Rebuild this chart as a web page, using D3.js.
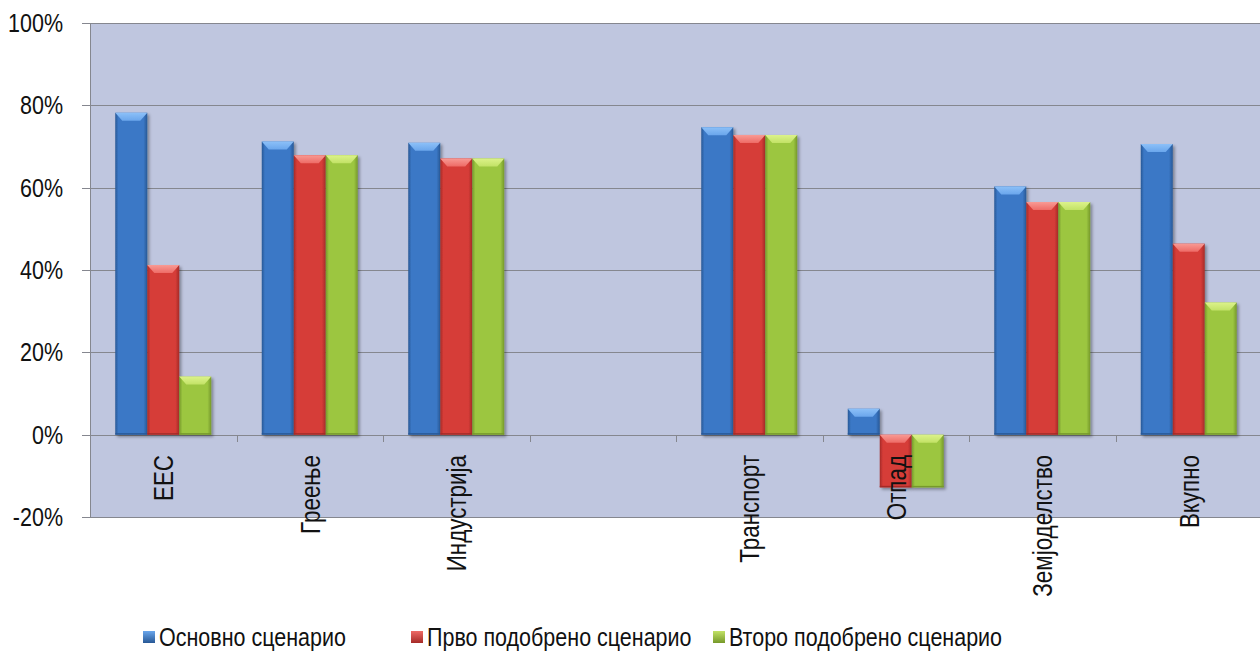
<!DOCTYPE html>
<html>
<head>
<meta charset="utf-8">
<script src="https://cdn.jsdelivr.net/npm/d3@7/dist/d3.min.js"></script>
<style>
  html, body { margin: 0; padding: 0; background: #ffffff; }
  svg { display: block; font-family: "Liberation Sans", Arial, sans-serif; }
</style>
</head>
<body>
<svg id="chart" width="1260" height="654"></svg>
<script>
// Sector categories (one empty slot between Индустрија and Транспорт)
const categories = ["ЕЕС", "Греење", "Индустрија", "", "Транспорт", "Отпад", "Земјоделство", "Вкупно"];
const seriesNames = ["Основно сценарио", "Прво подобрено сценарио", "Второ подобрено сценарио"];
// Reduction shares per sector, fractions
const baseValues   = [0.782, 0.712, 0.709, null, 0.747, 0.063, 0.603, 0.706];
const firstValues  = [0.412, 0.679, 0.671, null, 0.728, -0.128, 0.565, 0.464];
const secondValues = [0.141, 0.679, 0.671, null, 0.728, -0.128, 0.565, 0.321];
const yTicks = [-0.2, 0, 0.2, 0.4, 0.6, 0.8, 1.0];

const palette = [
  { base: "#3b78c6", dark: "#285896", light: "#6aa6ec", hi: "#8cc0f8" },
  { base: "#d63c38", dark: "#a52a27", light: "#ee6b66", hi: "#f89a94" },
  { base: "#9cc641", dark: "#76992a", light: "#c2e266", hi: "#dcf28a" }
];

const svg = d3.select("#chart");
const plot = { left: 90, right: 1262, top: 23, bottom: 517 };

const x0 = d3.scaleBand().domain(d3.range(categories.length))
  .range([plot.left, plot.right]).paddingInner(0).paddingOuter(0);
const x1 = d3.scaleBand().domain(d3.range(seriesNames.length))
  .range([0, x0.bandwidth()]).paddingInner(0).paddingOuter(0.79);
const y = d3.scaleLinear().domain([-0.2, 1.0]).range([plot.bottom, plot.top]);

const defs = svg.append("defs");
palette.forEach((c, i) => {
  const g = defs.append("linearGradient").attr("id", "side" + i)
    .attr("x1", "0").attr("x2", "1").attr("y1", "0").attr("y2", "0");
  g.append("stop").attr("offset", "0").attr("stop-color", c.dark);
  g.append("stop").attr("offset", "0.1").attr("stop-color", c.base);
  g.append("stop").attr("offset", "0.5").attr("stop-color", c.base);
  g.append("stop").attr("offset", "0.88").attr("stop-color", c.base);
  g.append("stop").attr("offset", "1").attr("stop-color", c.dark);
  const t = defs.append("linearGradient").attr("id", "cap" + i)
    .attr("x1", "0").attr("x2", "0").attr("y1", "0").attr("y2", "1");
  t.append("stop").attr("offset", "0").attr("stop-color", c.hi);
  t.append("stop").attr("offset", "1").attr("stop-color", c.light);
  const m = defs.append("linearGradient").attr("id", "mark" + i)
    .attr("x1", "0").attr("x2", "0").attr("y1", "0").attr("y2", "1");
  m.append("stop").attr("offset", "0").attr("stop-color", c.light);
  m.append("stop").attr("offset", "1").attr("stop-color", c.dark);
});
const shadow = defs.append("filter").attr("id", "shadow")
  .attr("x", "-20%").attr("y", "-10%").attr("width", "150%").attr("height", "130%");
shadow.append("feDropShadow").attr("dx", 2).attr("dy", 2)
  .attr("stdDeviation", 1.6).attr("flood-color", "#000").attr("flood-opacity", 0.35);

// Plot area background
svg.append("rect")
  .attr("x", plot.left).attr("y", plot.top)
  .attr("width", plot.right - plot.left).attr("height", plot.bottom - plot.top)
  .attr("fill", "#bfc6df");

// Horizontal gridlines with left tick marks
svg.append("g").selectAll("line").data(yTicks).join("line")
  .attr("x1", plot.left - 8).attr("x2", plot.right)
  .attr("y1", d => Math.round(y(d)) + 0.5).attr("y2", d => Math.round(y(d)) + 0.5)
  .attr("stroke", "#85878f").attr("stroke-width", 1);

// Left axis line
svg.append("line")
  .attr("x1", plot.left + 0.5).attr("x2", plot.left + 0.5)
  .attr("y1", plot.top).attr("y2", plot.bottom)
  .attr("stroke", "#85878f");

// Category tick marks on the zero line
svg.append("g").selectAll("line").data(d3.range(1, categories.length + 1)).join("line")
  .attr("x1", d => Math.round(plot.left + d * x0.step()) + 0.5)
  .attr("x2", d => Math.round(plot.left + d * x0.step()) + 0.5)
  .attr("y1", Math.round(y(0))).attr("y2", Math.round(y(0)) + 7)
  .attr("stroke", "#85878f");

// Y tick labels (plain hyphen for negatives)
svg.append("g").selectAll("text").data(yTicks).join("text")
  .attr("transform", d => `translate(63,${y(d)}) scale(0.86,1)`)
  .attr("text-anchor", "end").attr("dy", "0.36em")
  .attr("font-size", 25).attr("fill", "#111")
  .text(d => Math.round(d * 100) + "%");

// Bars
const allSeries = [baseValues, firstValues, secondValues];
const bars = [];
allSeries.forEach((vals, s) => {
  vals.forEach((v, c) => { if (v !== null) bars.push({ s, c, v }); });
});

const barG = svg.append("g").selectAll("g").data(bars).join("g")
  .attr("filter", "url(#shadow)");
barG.each(function (d) {
  const g = d3.select(this);
  const bx = x0(d.c) + x1(d.s);
  const bw = x1.bandwidth();
  const top = y(Math.max(0, d.v));
  const bot = y(Math.min(0, d.v));
  const h = bot - top;
  g.append("rect").attr("x", bx).attr("y", top).attr("width", bw).attr("height", h)
    .attr("fill", `url(#side${d.s})`);
  const capH = Math.min(8, h / 2);
  const inset = Math.min(7, bw / 4);
  g.append("path")
    .attr("d", `M${bx},${top} L${bx + bw},${top} L${bx + bw - inset},${top + capH} L${bx + inset},${top + capH} Z`)
    .attr("fill", `url(#cap${d.s})`);
  g.append("rect").attr("x", bx).attr("y", bot - 1.5).attr("width", bw).attr("height", 1.5)
    .attr("fill", palette[d.s].dark);
});

// Category labels, rotated
svg.append("g").selectAll("text").data(categories).join("text")
  .attr("transform", (d, i) => `translate(${x0(i) + x0.bandwidth() / 2},455) rotate(-90) scale(0.8,1)`)
  .attr("text-anchor", "end").attr("dy", "0.36em")
  .attr("font-size", 28).attr("fill", "#111")
  .text(d => d);

// Legend
const legendX = [143, 411, 713];
const leg = svg.append("g").selectAll("g").data(seriesNames).join("g")
  .attr("transform", (d, i) => `translate(${legendX[i]},637)`);
leg.append("rect").attr("x", 0).attr("y", -6).attr("width", 12).attr("height", 12)
  .attr("fill", (d, i) => `url(#mark${i})`);
leg.append("text").attr("transform", "translate(16,0) scale(0.86,1)")
  .attr("dy", "0.36em").attr("font-size", 25).attr("fill", "#111")
  .text(d => d);
</script>
</body>
</html>
